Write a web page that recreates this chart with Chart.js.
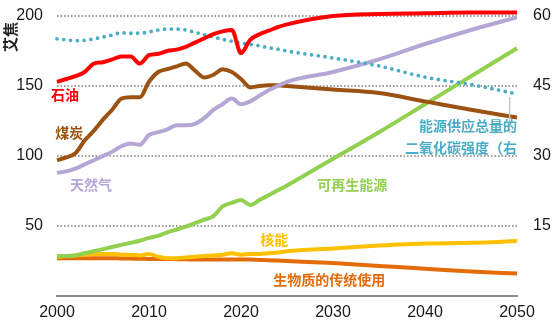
<!DOCTYPE html>
<html>
<head>
<meta charset="utf-8">
<script src="https://cdn.jsdelivr.net/npm/chart.js@4.4.1/dist/chart.umd.min.js"></script>
<style>
  html, body { margin: 0; padding: 0; background: #fff; }
</style>
</head>
<body>
<canvas id="c" width="553" height="329"></canvas>
<script>
// Years: annual history, then five-year projection steps
const years = [2000, 2001, 2002, 2003, 2004, 2005, 2006, 2007, 2008, 2009,
               2010, 2011, 2012, 2013, 2014, 2015, 2016, 2017, 2018, 2019,
               2020, 2021, 2022, 2023, 2024, 2025, 2030, 2035, 2040, 2045, 2050];

// Primary energy supply (EJ)
const oil = [153, 155, 157, 160, 166, 167, 169, 171, 171, 166,
             172, 173, 175, 176, 178, 181, 184, 187, 189, 190,
             173.5, 183, 187, 189.5, 192, 194, 200, 201.5, 202, 202.5, 202.5];
const coal = [97, 99, 102, 111, 118, 126, 133, 141, 142, 142,
              153, 160, 162, 164, 166, 161, 156, 158, 162, 160,
              155, 149, 150, 150.5, 150.5, 150, 147.5, 145, 139, 133, 127.5];
const gas = [88, 89, 91, 94, 97, 100, 103, 107, 109, 108,
             115, 117, 119, 122, 122, 123, 127, 133, 137, 141,
             137, 139, 143, 147, 150, 153, 160, 169, 180, 190, 199];
const renewables = [28.5, 28.5, 29, 30.5, 32, 33.5, 35, 36.5, 38, 39.5,
                    41.5, 43, 45.5, 47.5, 49.5, 52, 54.5, 57, 64, 66.5,
                    68.5, 65, 68.5, 72, 75.5, 79, 98, 117, 137, 157, 177];
const nuclear = [28, 28.5, 29, 29.5, 30, 30, 30, 29.5, 29.5, 29,
                 30, 28, 27, 27, 27.5, 28, 28.5, 29, 29.5, 30.5,
                 29.5, 30, 30, 30.5, 31, 32, 34, 36, 37.5, 38, 39.3];
const biomass = [27, 27, 27, 27, 27, 27, 27, 26.8, 26.8, 26.6,
                 26.5, 26.5, 26.4, 26.3, 26.2, 26, 26, 26, 26, 26,
                 26, 26, 25.8, 25.6, 25.3, 25, 23.5, 21.5, 19.5, 17.5, 16];
// CO2 intensity of total energy supply (right axis)
const co2Intensity = [55.1, 54.9, 54.7, 54.8, 55.1, 55.5, 55.9, 56.4, 56.3, 56.3,
                      56.6, 57, 57.2, 57.2, 57, 56.5, 56, 55.5, 55, 54.6,
                      54.2, 53.9, 53.6, 53.2, 52.9, 52.5, 51, 49.3, 46.9, 45.3, 43.3];

const leftTicks = [50, 100, 150, 200];
const rightTicks = [15, 30, 45, 60];
const xTicks = [2000, 2010, 2020, 2030, 2040, 2050];

const toPoints = arr => years.map((y, i) => ({ x: y, y: arr[i] }));

const NUM_FONT = "'Liberation Sans Narrow', 'Arial Narrow', 'Liberation Sans', sans-serif";
const CJK_FONT = "'Noto Sans CJK SC', sans-serif";

// Series labels placed in data coordinates (year, EJ)
const seriesLabels = [
  { text: '石油', x: 1999.35, y: 143.6, color: '#ff0000', align: 'left' },
  { text: '煤炭', x: 1999.8, y: 117, color: '#9c5212', align: 'left' },
  { text: '天然气', x: 2001.4, y: 79.5, color: '#b4a7d6', align: 'left' },
  { text: '能源供应总量的', x: 2050, y: 122, color: '#4bacc6', align: 'right' },
  { text: '二氧化碳强度（右', x: 2050, y: 105.7, color: '#4bacc6', align: 'right' },
  { text: '可再生能源', x: 2028.3, y: 79.5, color: '#92d050', align: 'left' },
  { text: '核能', x: 2022.1, y: 40.5, color: '#ffc000', align: 'left' },
  { text: '生物质的传统使用', x: 2023.5, y: 11.8, color: '#e36c09', align: 'left' }
];

const annotations = {
  id: 'annotations',
  afterDatasetsDraw(chart) {
    const ctx = chart.ctx;
    const xs = chart.scales.x, ys = chart.scales.y, yr = chart.scales.y2;
    const left = xs.getPixelForValue(2000), right = xs.getPixelForValue(2050);

    // dotted horizontal grid at the left-axis ticks, slid underneath the lines
    ctx.save();
    ctx.globalCompositeOperation = 'destination-over';
    ctx.strokeStyle = '#808080';
    ctx.lineWidth = 1.6;
    ctx.setLineDash([1.6, 1.9]);
    leftTicks.forEach(v => {
      const py = Math.round(ys.getPixelForValue(v));
      ctx.beginPath();
      ctx.moveTo(left, py);
      ctx.lineTo(right, py);
      ctx.stroke();
    });
    ctx.restore();

    ctx.save();
    // leader from the intensity line's end down to its label
    const lx = xs.getPixelForValue(2049.2);
    ctx.strokeStyle = '#c8c8c8';
    ctx.lineWidth = 1.5;
    ctx.beginPath();
    ctx.moveTo(lx, yr.getPixelForValue(co2Intensity[co2Intensity.length - 1]) + 3);
    ctx.lineTo(lx, ys.getPixelForValue(116.5));
    ctx.stroke();

    ctx.font = 'bold 14px ' + CJK_FONT;
    ctx.textBaseline = 'middle';
    seriesLabels.forEach(l => {
      ctx.fillStyle = l.color;
      ctx.textAlign = l.align;
      ctx.fillText(l.text, xs.getPixelForValue(l.x), ys.getPixelForValue(l.y));
    });

    // unit title for the left axis
    ctx.translate(10, 37);
    ctx.rotate(-Math.PI / 2);
    ctx.fillStyle = '#222';
    ctx.textAlign = 'center';
    ctx.font = 'bold 15px ' + CJK_FONT;
    ctx.fillText('艾焦', 0, 0);
    ctx.restore();
  }
};

const line = (data, color, extra) => Object.assign({
  data: toPoints(data),
  borderColor: color,
  backgroundColor: color,
  borderWidth: 4,
  pointRadius: 0,
  cubicInterpolationMode: 'monotone',
  clip: 8,
  yAxisID: 'y'
}, extra || {});

new Chart(document.getElementById('c'), {
  type: 'line',
  data: {
    datasets: [
      line(oil, '#ff0000'),
      line(co2Intensity, '#4bacc6', { yAxisID: 'y2', borderWidth: 3.8, borderDash: [0, 6.8], borderCapStyle: 'round' }),
      line(gas, '#b4a7d6'),
      line(coal, '#9c5212'),
      line(renewables, '#92d050'),
      line(nuclear, '#ffc000'),
      line(biomass, '#e36c09')
    ]
  },
  options: {
    responsive: false,
    animation: false,
    devicePixelRatio: 1,
    layout: { padding: { top: 16, left: 0, right: 0, bottom: 0 } },
    plugins: { legend: { display: false }, tooltip: { enabled: false } },
    scales: {
      x: {
        type: 'linear',
        min: 2000, max: 2050,
        afterBuildTicks: s => { s.ticks = xTicks.map(v => ({ value: v })); },
        afterFit: s => { s.height = 33; s.paddingLeft = 0; s.paddingRight = 0; },
        grid: { display: false, drawTicks: false },
        border: { display: true, color: '#8c8c8c', width: 2 },
        ticks: {
          padding: 7,
          maxRotation: 0,
          autoSkip: false,
          color: '#1a1a1a',
          font: { family: NUM_FONT, size: 16 },
          callback: v => String(v)
        }
      },
      y: {
        position: 'left',
        min: 0, max: 200,
        afterBuildTicks: s => { s.ticks = leftTicks.map(v => ({ value: v })); },
        afterFit: s => { s.width = 57; s.paddingTop = 0; s.paddingBottom = 0; },
        border: { display: false },
        grid: { display: false, drawTicks: false },
        ticks: {
          padding: 14,
          color: '#1a1a1a',
          font: { family: NUM_FONT, size: 16 }
        }
      },
      y2: {
        position: 'right',
        min: 0, max: 60,
        afterBuildTicks: s => { s.ticks = rightTicks.map(v => ({ value: v })); },
        afterFit: s => { s.width = 36; s.paddingTop = 0; s.paddingBottom = 0; },
        border: { display: false },
        grid: { display: false, drawTicks: false },
        ticks: {
          padding: 16,
          color: '#1a1a1a',
          font: { family: NUM_FONT, size: 16 }
        }
      }
    }
  },
  plugins: [annotations]
});
</script>
</body>
</html>
